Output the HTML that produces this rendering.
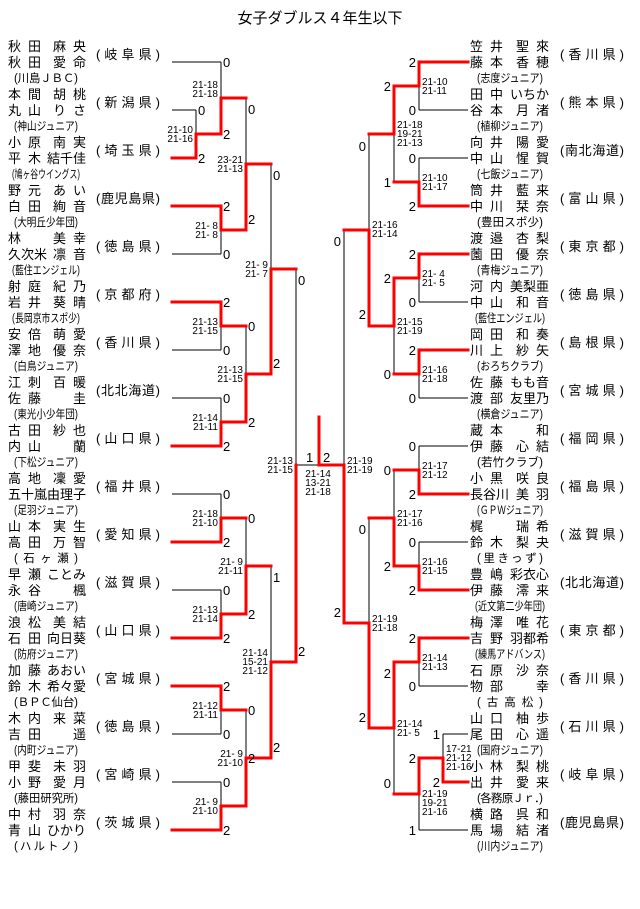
<!DOCTYPE html>
<html><head><meta charset="utf-8"><style>
html,body{margin:0;padding:0;background:#fff;width:640px;height:909px;overflow:hidden}
svg{display:block}
.t{font-family:"Liberation Sans","Noto Sans CJK JP",sans-serif;font-size:15px}
.n{font-family:"Liberation Sans","Noto Sans CJK JP",sans-serif;font-size:13px}
.c{font-family:"Liberation Sans","Noto Sans CJK JP",sans-serif;font-size:11.5px}
.s{font-family:"Liberation Sans",sans-serif;font-size:10px}
.w{font-family:"Liberation Sans",sans-serif;font-size:13px}
</style></head><body>
<svg width="640" height="909" viewBox="0 0 640 909" xmlns="http://www.w3.org/2000/svg">
<text class="t" x="320" y="23" text-anchor="middle">女子ダブルス４年生以下</text>

<g fill="none" stroke="#000" stroke-width="1" shape-rendering="crispEdges">
<path d="M172 62H221M172 110H196M172 158H196M172 206H221M172 254H221M172 302H221M172 350H221M172 398H221M172 446H221M172 494H221M172 542H221M172 590H221M172 638H221M172 686H221M172 734H221M172 782H221M172 830H221"/>
<path d="M196 110V158M221 62V134M221 206V254M246 98V230M221 302V350M221 398V446M246 326V422M271 164V374M296 269V662M221 494V542M221 590V638M246 518V614M221 686V734M221 782V830M246 710V806M271 566V758M296 465H319"/>
<path d="M468 62H419M468 110H419M468 158H419M468 206H419M468 254H419M468 302H419M468 350H419M468 398H419M468 446H419M468 494H419M468 542H419M468 590H419M468 638H419M468 686H419M468 734H443M468 782H443M468 830H419"/>
<path d="M419 62V110M419 158V206M394 86V182M419 254V302M419 350V398M394 278V374M369 134V326M344 230V623M419 446V494M419 542V590M394 470V566M419 638V686M443 734V782M419 758V830M394 662V794M369 518V728"/>
</g>
<g fill="none" stroke="#f00" stroke-width="3" stroke-linejoin="miter" stroke-linecap="square">
<path d="M172 158H196V134H221V98H246"/>
<path d="M172 206H221V230H246V164H271"/>
<path d="M172 302H221V326H246"/>
<path d="M172 446H221V422H246V374H271V269H296"/>
<path d="M172 542H221V518H246"/>
<path d="M172 638H221V614H246V566H271"/>
<path d="M172 686H221V710H246"/>
<path d="M172 830H221V806H246V758H271V662H296V465"/>
<path d="M468 638H419V662H394V728H369V623H344V465H319V417"/>
<path d="M468 62H419V86H394V134H369"/>
<path d="M468 206H419V182H394"/>
<path d="M468 254H419V278H394V326H369V230H344"/>
<path d="M468 350H419V374H394"/>
<path d="M468 494H419V470H394"/>
<path d="M468 590H419V566H394V518H369"/>
<path d="M468 782H443V758H419V794H394"/>
</g>

<g class="w">
<text x="223" y="67">0</text><text x="223" y="139">2</text>
<text x="198" y="115">0</text><text x="198" y="163">2</text>
<text x="223" y="211">2</text><text x="223" y="259">0</text>
<text x="248" y="114">0</text><text x="248" y="224">2</text>
<text x="223" y="307">2</text><text x="223" y="355">0</text>
<text x="223" y="403">0</text><text x="223" y="451">2</text>
<text x="248" y="331">0</text><text x="248" y="427">2</text>
<text x="273" y="180">0</text><text x="273" y="368">2</text>
<text x="298" y="285">0</text><text x="298" y="656">2</text>
<text x="223" y="499">0</text><text x="223" y="547">2</text>
<text x="223" y="595">0</text><text x="223" y="643">2</text>
<text x="248" y="523">0</text><text x="248" y="619">2</text>
<text x="223" y="691">2</text><text x="223" y="739">0</text>
<text x="223" y="787">0</text><text x="223" y="835">2</text>
<text x="248" y="715">0</text><text x="248" y="763">2</text>
<text x="273" y="582">1</text><text x="273" y="752">2</text>
<text x="306" y="462">1</text><text x="323" y="462">2</text>
</g>
<g class="w" text-anchor="end">
<text x="416" y="67">2</text><text x="416" y="115">0</text>
<text x="416" y="163">0</text><text x="416" y="211">2</text>
<text x="391" y="91">2</text><text x="391" y="187">1</text>
<text x="416" y="259">2</text><text x="416" y="307">0</text>
<text x="416" y="355">2</text><text x="416" y="403">0</text>
<text x="391" y="283">2</text><text x="391" y="379">0</text>
<text x="366" y="151">0</text><text x="366" y="319">2</text>
<text x="341" y="246">0</text><text x="341" y="617">2</text>
<text x="416" y="451">0</text><text x="416" y="499">2</text>
<text x="416" y="547">0</text><text x="416" y="595">2</text>
<text x="391" y="475">0</text><text x="391" y="571">2</text>
<text x="416" y="643">2</text><text x="416" y="691">0</text>
<text x="440" y="739">1</text><text x="440" y="787">2</text>
<text x="416" y="763">2</text><text x="416" y="835">1</text>
<text x="391" y="678">2</text><text x="391" y="788">0</text>
<text x="366" y="534">0</text><text x="366" y="722">2</text>
</g>

<g class="s" text-anchor="end">
<text x="193" y="133">21-10</text><text x="193" y="142">21-16</text>
<text x="218" y="88">21-18</text><text x="218" y="97">21-18</text>
<text x="218" y="229">21- 8</text><text x="218" y="238">21- 8</text>
<text x="243" y="163">23-21</text><text x="243" y="172">21-13</text>
<text x="218" y="325">21-13</text><text x="218" y="334">21-15</text>
<text x="218" y="421">21-14</text><text x="218" y="430">21-11</text>
<text x="243" y="373">21-13</text><text x="243" y="382">21-15</text>
<text x="268" y="268">21- 9</text><text x="268" y="277">21- 7</text>
<text x="218" y="517">21-18</text><text x="218" y="526">21-10</text>
<text x="218" y="613">21-13</text><text x="218" y="622">21-14</text>
<text x="243" y="565">21- 9</text><text x="243" y="574">21-11</text>
<text x="218" y="709">21-12</text><text x="218" y="718">21-11</text>
<text x="218" y="805">21- 9</text><text x="218" y="814">21-10</text>
<text x="243" y="757">21- 9</text><text x="243" y="766">21-10</text>
<text x="268" y="656">21-14</text><text x="268" y="665">15-21</text><text x="268" y="674">21-12</text>
<text x="293" y="464">21-13</text><text x="293" y="473">21-15</text>
</g>
<g class="s" text-anchor="middle">
<text x="318" y="477">21-14</text><text x="318" y="486">13-21</text><text x="318" y="495">21-18</text>
</g>
<g class="s">
<text x="422" y="85">21-10</text><text x="422" y="94">21-11</text>
<text x="422" y="181">21-10</text><text x="422" y="190">21-17</text>
<text x="397" y="128">21-18</text><text x="397" y="137">19-21</text><text x="397" y="146">21-13</text>
<text x="422" y="277">21- 4</text><text x="422" y="286">21- 5</text>
<text x="422" y="373">21-16</text><text x="422" y="382">21-18</text>
<text x="397" y="325">21-15</text><text x="397" y="334">21-19</text>
<text x="372" y="228">21-16</text><text x="372" y="237">21-14</text>
<text x="347" y="464">21-19</text><text x="347" y="473">21-19</text>
<text x="422" y="469">21-17</text><text x="422" y="478">21-12</text>
<text x="422" y="565">21-16</text><text x="422" y="574">21-15</text>
<text x="397" y="517">21-17</text><text x="397" y="526">21-16</text>
<text x="422" y="661">21-14</text><text x="422" y="670">21-13</text>
<text x="446" y="752">17-21</text><text x="446" y="761">21-12</text><text x="446" y="770">21-16</text>
<text x="422" y="797">21-19</text><text x="422" y="806">19-21</text><text x="422" y="815">21-16</text>
<text x="397" y="727">21-14</text><text x="397" y="736">21- 5</text>
<text x="372" y="622">21-19</text><text x="372" y="631">21-18</text>
</g>

<g class="n">
<text x="8" y="51" textLength="33">秋田</text><text x="53" y="51" textLength="33">麻央</text>
<text x="8" y="67" textLength="33">秋田</text><text x="53" y="67" textLength="33">愛命</text>
<text x="8" y="99" textLength="33">本間</text><text x="53" y="99" textLength="33">胡桃</text>
<text x="8" y="115" textLength="33">丸山</text><text x="53" y="115" textLength="33">りさ</text>
<text x="8" y="147" textLength="33">小原</text><text x="53" y="147" textLength="33">南実</text>
<text x="8" y="163" textLength="33">平木</text><text x="47" y="163" textLength="39">結千佳</text>
<text x="8" y="195" textLength="33">野元</text><text x="53" y="195" textLength="33">あい</text>
<text x="8" y="211" textLength="33">白田</text><text x="53" y="211" textLength="33">絢音</text>
<text x="8" y="243">林</text><text x="53" y="243" textLength="33">美幸</text>
<text x="8" y="259" textLength="39">久次米</text><text x="53" y="259" textLength="33">凛音</text>
<text x="8" y="291" textLength="33">射庭</text><text x="53" y="291" textLength="33">紀乃</text>
<text x="8" y="307" textLength="33">岩井</text><text x="53" y="307" textLength="33">葵晴</text>
<text x="8" y="339" textLength="33">安倍</text><text x="53" y="339" textLength="33">萌愛</text>
<text x="8" y="355" textLength="33">澤地</text><text x="53" y="355" textLength="33">優奈</text>
<text x="8" y="387" textLength="33">江刺</text><text x="53" y="387" textLength="33">百暖</text>
<text x="8" y="403" textLength="33">佐藤</text><text x="73" y="403">圭</text>
<text x="8" y="435" textLength="33">古田</text><text x="53" y="435" textLength="33">紗也</text>
<text x="8" y="451" textLength="33">内山</text><text x="73" y="451">蘭</text>
<text x="8" y="483" textLength="33">高地</text><text x="53" y="483" textLength="33">凜愛</text>
<text x="8" y="499" textLength="39">五十嵐</text><text x="47" y="499" textLength="39">由理子</text>
<text x="8" y="531" textLength="33">山本</text><text x="53" y="531" textLength="33">実生</text>
<text x="8" y="547" textLength="33">高田</text><text x="53" y="547" textLength="33">万智</text>
<text x="8" y="579" textLength="33">早瀬</text><text x="47" y="579" textLength="39">ことみ</text>
<text x="8" y="595" textLength="33">永谷</text><text x="73" y="595">楓</text>
<text x="8" y="627" textLength="33">浪松</text><text x="53" y="627" textLength="33">美結</text>
<text x="8" y="643" textLength="33">石田</text><text x="47" y="643" textLength="39">向日葵</text>
<text x="8" y="675" textLength="33">加藤</text><text x="47" y="675" textLength="39">あおい</text>
<text x="8" y="691" textLength="33">鈴木</text><text x="47" y="691" textLength="39">希々愛</text>
<text x="8" y="723" textLength="33">木内</text><text x="53" y="723" textLength="33">来菜</text>
<text x="8" y="739" textLength="33">吉田</text><text x="73" y="739">遥</text>
<text x="8" y="771" textLength="33">甲斐</text><text x="53" y="771" textLength="33">未羽</text>
<text x="8" y="787" textLength="33">小野</text><text x="53" y="787" textLength="33">愛月</text>
<text x="8" y="819" textLength="33">中村</text><text x="53" y="819" textLength="33">羽奈</text>
<text x="8" y="835" textLength="33">青山</text><text x="47" y="835" textLength="39">ひかり</text>
</g>
<g class="n">
<text x="96" y="59" textLength="64">(岐阜県)</text>
<text x="96" y="107" textLength="64">(新潟県)</text>
<text x="96" y="155" textLength="64">(埼玉県)</text>
<text x="96" y="203" textLength="64">(鹿児島県)</text>
<text x="96" y="251" textLength="64">(徳島県)</text>
<text x="96" y="299" textLength="64">(京都府)</text>
<text x="96" y="347" textLength="64">(香川県)</text>
<text x="96" y="395" textLength="64">(北北海道)</text>
<text x="96" y="443" textLength="64">(山口県)</text>
<text x="96" y="491" textLength="64">(福井県)</text>
<text x="96" y="539" textLength="64">(愛知県)</text>
<text x="96" y="587" textLength="64">(滋賀県)</text>
<text x="96" y="635" textLength="64">(山口県)</text>
<text x="96" y="683" textLength="64">(宮城県)</text>
<text x="96" y="731" textLength="64">(徳島県)</text>
<text x="96" y="779" textLength="64">(宮崎県)</text>
<text x="96" y="827" textLength="64">(茨城県)</text>
</g>
<g class="c">
<text x="14" y="82" textLength="64">(川島ＪＢＣ)</text>
<text x="14" y="130" textLength="64" lengthAdjust="spacingAndGlyphs">(神山ジュニア)</text>
<text x="12" y="178" textLength="68" lengthAdjust="spacingAndGlyphs">(鳩ヶ谷ウイングス)</text>
<text x="14" y="226" textLength="64" lengthAdjust="spacingAndGlyphs">(大明丘少年団)</text>
<text x="12" y="274" textLength="68" lengthAdjust="spacingAndGlyphs">(藍住エンジェル)</text>
<text x="12" y="322" textLength="68" lengthAdjust="spacingAndGlyphs">(長岡京市スポ少)</text>
<text x="14" y="370" textLength="64" lengthAdjust="spacingAndGlyphs">(白鳥ジュニア)</text>
<text x="14" y="418" textLength="64" lengthAdjust="spacingAndGlyphs">(東光小少年団)</text>
<text x="14" y="466" textLength="64" lengthAdjust="spacingAndGlyphs">(下松ジュニア)</text>
<text x="14" y="514" textLength="64" lengthAdjust="spacingAndGlyphs">(足羽ジュニア)</text>
<text x="14" y="562" textLength="64">(石ヶ瀬)</text>
<text x="14" y="610" textLength="64" lengthAdjust="spacingAndGlyphs">(唐崎ジュニア)</text>
<text x="14" y="658" textLength="64" lengthAdjust="spacingAndGlyphs">(防府ジュニア)</text>
<text x="14" y="706" textLength="64">(ＢＰＣ仙台)</text>
<text x="14" y="754" textLength="64" lengthAdjust="spacingAndGlyphs">(内町ジュニア)</text>
<text x="14" y="802" textLength="64" lengthAdjust="spacingAndGlyphs">(藤田研究所)</text>
<text x="14" y="850" textLength="64">(ハルトノ)</text>
</g>

<g class="n">
<text x="470" y="51" textLength="33">笠井</text><text x="516" y="51" textLength="33">聖來</text>
<text x="470" y="67" textLength="33">藤本</text><text x="516" y="67" textLength="33">香穂</text>
<text x="470" y="99" textLength="33">田中</text><text x="510" y="99" textLength="39">いちか</text>
<text x="470" y="115" textLength="33">谷本</text><text x="516" y="115" textLength="33">月渚</text>
<text x="470" y="147" textLength="33">向井</text><text x="516" y="147" textLength="33">陽愛</text>
<text x="470" y="163" textLength="33">中山</text><text x="516" y="163" textLength="33">惺賀</text>
<text x="470" y="195" textLength="33">筒井</text><text x="516" y="195" textLength="33">藍来</text>
<text x="470" y="211" textLength="33">中川</text><text x="516" y="211" textLength="33">栞奈</text>
<text x="470" y="243" textLength="33">渡邉</text><text x="516" y="243" textLength="33">杏梨</text>
<text x="470" y="259" textLength="33">薗田</text><text x="516" y="259" textLength="33">優奈</text>
<text x="470" y="291" textLength="33">河内</text><text x="510" y="291" textLength="39">美梨亜</text>
<text x="470" y="307" textLength="33">中山</text><text x="516" y="307" textLength="33">和音</text>
<text x="470" y="339" textLength="33">岡田</text><text x="516" y="339" textLength="33">和奏</text>
<text x="470" y="355" textLength="33">川上</text><text x="516" y="355" textLength="33">紗矢</text>
<text x="470" y="387" textLength="33">佐藤</text><text x="510" y="387" textLength="39">もも音</text>
<text x="470" y="403" textLength="33">渡部</text><text x="510" y="403" textLength="39">友里乃</text>
<text x="470" y="435" textLength="33">蔵本</text><text x="536" y="435">和</text>
<text x="470" y="451" textLength="33">伊藤</text><text x="516" y="451" textLength="33">心結</text>
<text x="470" y="483" textLength="33">小黒</text><text x="516" y="483" textLength="33">咲良</text>
<text x="470" y="499" textLength="39">長谷川</text><text x="516" y="499" textLength="33">美羽</text>
<text x="470" y="531">梶</text><text x="516" y="531" textLength="33">瑞希</text>
<text x="470" y="547" textLength="33">鈴木</text><text x="516" y="547" textLength="33">梨夬</text>
<text x="470" y="579" textLength="33">豊嶋</text><text x="510" y="579" textLength="39">彩衣心</text>
<text x="470" y="595" textLength="33">伊藤</text><text x="516" y="595" textLength="33">澪来</text>
<text x="470" y="627" textLength="33">梅澤</text><text x="516" y="627" textLength="33">唯花</text>
<text x="470" y="643" textLength="33">吉野</text><text x="510" y="643" textLength="39">羽都希</text>
<text x="470" y="675" textLength="33">石原</text><text x="516" y="675" textLength="33">沙奈</text>
<text x="470" y="691" textLength="33">物部</text><text x="536" y="691">幸</text>
<text x="470" y="723" textLength="33">山口</text><text x="516" y="723" textLength="33">柚歩</text>
<text x="470" y="739" textLength="33">尾田</text><text x="516" y="739" textLength="33">心遥</text>
<text x="470" y="771" textLength="33">小林</text><text x="516" y="771" textLength="33">梨桃</text>
<text x="470" y="787" textLength="33">出井</text><text x="516" y="787" textLength="33">愛来</text>
<text x="470" y="819" textLength="33">横路</text><text x="516" y="819" textLength="33">呉和</text>
<text x="470" y="835" textLength="33">馬場</text><text x="516" y="835" textLength="33">結渚</text>
</g>
<g class="n">
<text x="560" y="59" textLength="64">(香川県)</text>
<text x="560" y="107" textLength="64">(熊本県)</text>
<text x="560" y="155" textLength="64">(南北海道)</text>
<text x="560" y="203" textLength="64">(富山県)</text>
<text x="560" y="251" textLength="64">(東京都)</text>
<text x="560" y="299" textLength="64">(徳島県)</text>
<text x="560" y="347" textLength="64">(島根県)</text>
<text x="560" y="395" textLength="64">(宮城県)</text>
<text x="560" y="443" textLength="64">(福岡県)</text>
<text x="560" y="491" textLength="64">(福島県)</text>
<text x="560" y="539" textLength="64">(滋賀県)</text>
<text x="560" y="587" textLength="64">(北北海道)</text>
<text x="560" y="635" textLength="64">(東京都)</text>
<text x="560" y="683" textLength="64">(香川県)</text>
<text x="560" y="731" textLength="64">(石川県)</text>
<text x="560" y="779" textLength="64">(岐阜県)</text>
<text x="560" y="827" textLength="64">(鹿児島県)</text>
</g>
<g class="c">
<text x="477" y="82" textLength="66" lengthAdjust="spacingAndGlyphs">(志度ジュニア)</text>
<text x="477" y="130" textLength="66" lengthAdjust="spacingAndGlyphs">(植柳ジュニア)</text>
<text x="477" y="178" textLength="66" lengthAdjust="spacingAndGlyphs">(七飯ジュニア)</text>
<text x="477" y="226" textLength="66">(豊田スポ少)</text>
<text x="477" y="274" textLength="66" lengthAdjust="spacingAndGlyphs">(青梅ジュニア)</text>
<text x="475" y="322" textLength="70" lengthAdjust="spacingAndGlyphs">(藍住エンジェル)</text>
<text x="477" y="370" textLength="66" lengthAdjust="spacingAndGlyphs">(おろちクラブ)</text>
<text x="477" y="418" textLength="66" lengthAdjust="spacingAndGlyphs">(横倉ジュニア)</text>
<text x="477" y="466" textLength="66">(若竹クラブ)</text>
<text x="477" y="514" textLength="66" lengthAdjust="spacingAndGlyphs">(ＧＰＷジュニア)</text>
<text x="477" y="562" textLength="66">(里きっず)</text>
<text x="475" y="610" textLength="70" lengthAdjust="spacingAndGlyphs">(近文第二少年団)</text>
<text x="475" y="658" textLength="70" lengthAdjust="spacingAndGlyphs">(練馬アドバンス)</text>
<text x="477" y="706" textLength="66">(古高松)</text>
<text x="477" y="754" textLength="66" lengthAdjust="spacingAndGlyphs">(国府ジュニア)</text>
<text x="477" y="802" textLength="66">(各務原Ｊｒ．)</text>
<text x="477" y="850" textLength="66" lengthAdjust="spacingAndGlyphs">(川内ジュニア)</text>
</g>
</svg>
</body></html>
